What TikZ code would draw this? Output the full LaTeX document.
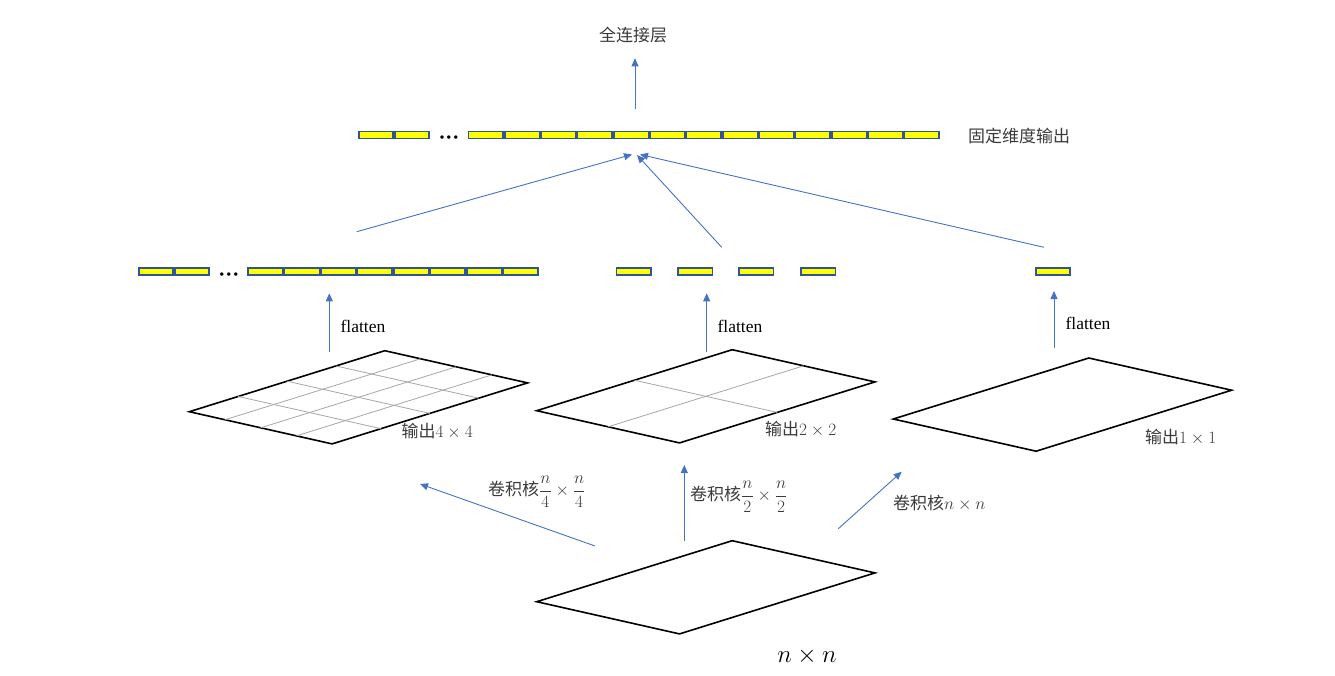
\documentclass[tikz,border=0pt]{standalone}
\usepackage{fontspec}
\setmainfont{Liberation Serif}
\newfontfamily\cjk{Noto Sans CJK SC}
\usetikzlibrary{arrows.meta}
\definecolor{arrblue}{HTML}{4472C4}
\definecolor{barblue}{HTML}{2F5597}
\definecolor{baryel}{HTML}{FFFF00}
\definecolor{txtgray}{HTML}{3A3A3A}
\tikzset{
  cell/.style={rectangle, draw=barblue, fill=baryel, line width=1.7pt, inner sep=0pt, minimum height=7pt},
  arr/.style={draw=arrblue, line width=0.9pt, -{Triangle[length=8pt,width=7pt]}},
  edge/.style={draw=black, line width=1.6pt, line join=miter},
  gridl/.style={draw=black!35, line width=0.8pt},
  lab/.style={inner sep=0pt, text=txtgray, font=\fontsize{17}{20}\selectfont},
  flab/.style={inner sep=0pt, text=black, font=\fontsize{17.5}{20}\selectfont},
  dotlab/.style={inner sep=0pt, text=black, font=\fontsize{21}{21}\selectfont\bfseries},
  pics/plane/.style={code={
    \draw[edge] (0,0) -- (195.5,-61) -- (338.3,-28.8) -- (142.8,32.2) -- cycle;
    \ifnum#1>1
      \pgfmathtruncatemacro{\nm}{#1-1}
      \foreach \i in {1,...,\nm}{
        \draw[gridl] ({\i/#1*195.5},{-\i/#1*61}) -- ({142.8+\i/#1*195.5},{32.2-\i/#1*61});
        \draw[gridl] ({\i/#1*142.8},{\i/#1*32.2}) -- ({195.5+\i/#1*142.8},{-61+\i/#1*32.2});
      }
    \fi
  }}
}
\newcommand{\fr}[2]{{\displaystyle\frac{#1}{#2}}}
\begin{document}
\begin{tikzpicture}[x=1pt,y=-1pt]
\useasboundingbox (0,0) rectangle (1335,675);

% planes
\pic at (189.3,411.7) {plane=4};
\pic at (536.7,410.7) {plane=2};
\pic at (893.3,419) {plane=1};
\pic at (536.7,601.7) {plane=1};

% top bar
\foreach \k in {0,1}{
  \node[cell, minimum width=34.15pt] (ta\k) at ({358.3+17.925+\k*35.85},135) {};
}
\node[dotlab] (tdots) at (449,140) {···};
\foreach \k in {0,...,12}{
  \node[cell, minimum width=34.63pt] (tb\k) at ({467.7+18.165+\k*36.33},135) {};
}

% middle row bars
\foreach \k in {0,1}{
  \node[cell, minimum width=34.15pt] (ma\k) at ({138.3+17.925+\k*35.85},271.8) {};
}
\node[dotlab] (mdots) at (229,277) {···};
\foreach \k in {0,...,7}{
  \node[cell, minimum width=34.76pt] (mb\k) at ({247.3+18.23+\k*36.46},271.8) {};
}
\foreach \x [count=\c] in {633.7,695.3,756.3,818.3}{
  \node[cell, minimum width=34.3pt] (mc\c) at (\x,271.8) {};
}
\node[cell, minimum width=34pt] (md) at (1053.3,271.8) {};

% labels
\node[lab] (fc) at (633,35) {\cjk 全连接层};
\node[lab, anchor=west] (fixed) at (968,135.7) {\cjk 固定维度输出};
\node[flab] (fl1) at (363,326) {flatten};
\node[flab] (fl2) at (740,326) {flatten};
\node[flab] (fl3) at (1088,323) {flatten};
\node[lab, anchor=west] (o4) at (401.5,431) {\cjk 输出$4\times4$};
\node[lab, anchor=west] (o2) at (765,429) {\cjk 输出$2\times2$};
\node[lab, anchor=west] (o1) at (1145,437) {\cjk 输出$1\times1$};
\node[lab, anchor=west] (k4) at (488,492) {\cjk 卷积核$\fr{n}{4}\times\fr{n}{4}$};
\node[lab, anchor=west] (k2) at (690,497) {\cjk 卷积核$\fr{n}{2}\times\fr{n}{2}$};
\node[lab, anchor=west] (k1) at (893,503) {\cjk 卷积核$n\times n$};
\node[inner sep=0pt, text=black, font=\fontsize{25}{28}\selectfont] (nn) at (807,656) {$n\times n$};

% arrow end coordinates
\coordinate (topS) at (635,109.3);
\coordinate (topE) at (635,58.3);
\coordinate (l1S) at (356.7,231.7);
\coordinate (l1E) at (632,154.5);
\coordinate (l2S) at (721.7,247.3);
\coordinate (l2E) at (637,155);
\coordinate (l3S) at (1044,247.3);
\coordinate (l3E) at (640,154.5);
\coordinate (f1S) at (329.3,351.7);
\coordinate (f1E) at (329.3,293.3);
\coordinate (f2S) at (706.7,351.7);
\coordinate (f2E) at (706.7,293.3);
\coordinate (f3S) at (1054,348);
\coordinate (f3E) at (1054,291);
\coordinate (b1S) at (595,546);
\coordinate (b1E) at (420,484);
\coordinate (b2S) at (684.3,541);
\coordinate (b2E) at (684.3,465);
\coordinate (b3S) at (838.3,528.7);
\coordinate (b3E) at (901.7,471.7);

\draw[arr] (topS) -- (topE);
\draw[arr] (l1S) -- (l1E);
\draw[arr] (l2S) -- (l2E);
\draw[arr] (l3S) -- (l3E);
\draw[arr] (f1S) -- (f1E);
\draw[arr] (f2S) -- (f2E);
\draw[arr] (f3S) -- (f3E);
\draw[arr] (b1S) -- (b1E);
\draw[arr] (b2S) -- (b2E);
\draw[arr] (b3S) -- (b3E);
\end{tikzpicture}
\end{document}
